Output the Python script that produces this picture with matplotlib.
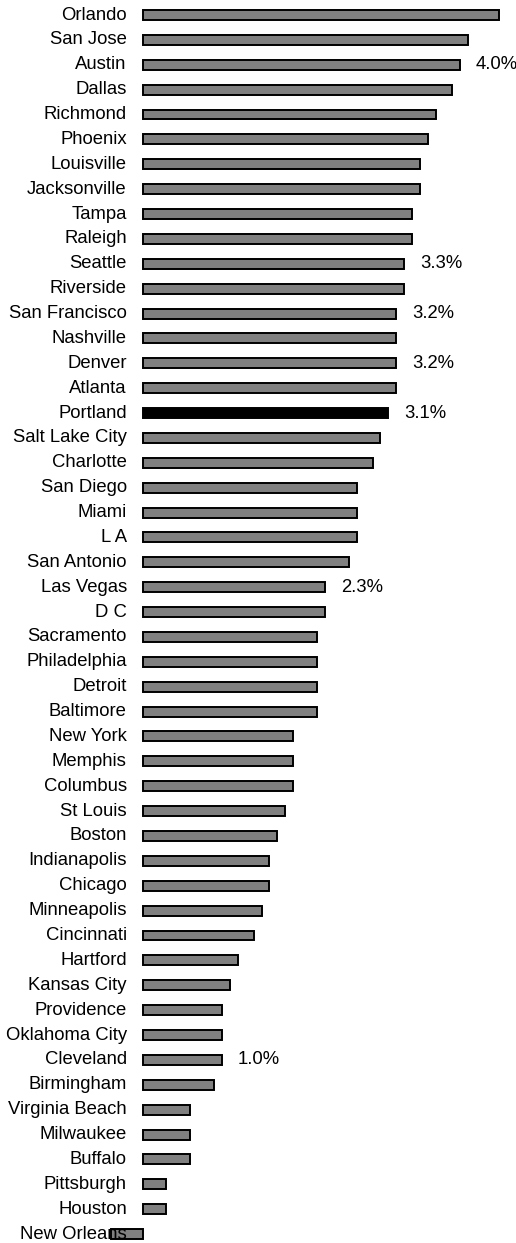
import numpy as np
import matplotlib
matplotlib.use('Agg')
import matplotlib.pyplot as plt

cities = ['Orlando', 'San Jose', 'Austin', 'Dallas', 'Richmond', 'Phoenix',
          'Louisville', 'Jacksonville', 'Tampa', 'Raleigh', 'Seattle', 'Riverside',
          'San Francisco', 'Nashville', 'Denver', 'Atlanta', 'Portland',
          'Salt Lake City', 'Charlotte', 'San Diego', 'Miami', 'L A', 'San Antonio',
          'Las Vegas', 'D C', 'Sacramento', 'Philadelphia', 'Detroit', 'Baltimore',
          'New York', 'Memphis', 'Columbus', 'St Louis', 'Boston', 'Indianapolis',
          'Chicago', 'Minneapolis', 'Cincinnati', 'Hartford', 'Kansas City',
          'Providence', 'Oklahoma City', 'Cleveland', 'Birmingham', 'Virginia Beach',
          'Milwaukee', 'Buffalo', 'Pittsburgh', 'Houston', 'New Orleans']
growth = [4.5, 4.1, 4.0, 3.9, 3.7, 3.6,
          3.5, 3.5, 3.4, 3.4, 3.3, 3.3,
          3.2, 3.2, 3.2, 3.2, 3.1,
          3.0, 2.9, 2.7, 2.7, 2.7, 2.6,
          2.3, 2.3, 2.2, 2.2, 2.2, 2.2,
          1.9, 1.9, 1.9, 1.8, 1.7, 1.6,
          1.6, 1.5, 1.4, 1.2, 1.1,
          1.0, 1.0, 1.0, 0.9, 0.6,
          0.6, 0.6, 0.3, 0.3, -0.4]
labelled = ['Austin', 'Seattle', 'San Francisco', 'Denver', 'Portland',
            'Las Vegas', 'Cleveland']
highlight = 'Portland'

fig = plt.figure(figsize=(5.16, 12.43), dpi=100)
ax = fig.add_axes([0, 0, 1, 1])
plt.rcParams['font.family'] = ['Liberation Sans', 'DejaVu Sans']

y = np.arange(len(cities))
colors = ['black' if c == highlight else '#808080' for c in cities]
ax.barh(y, growth, height=0.40, color=colors, edgecolor='black', linewidth=1.4, zorder=2)

for i, (c, v) in enumerate(zip(cities, growth)):
    ax.text(-0.2, i, c, ha='right', va='center', fontsize=13.3, family='Liberation Sans', zorder=3)
    if c in labelled:
        ax.text(v + 0.2, i, '{:.1f}%'.format(v), ha='left', va='center',
                fontsize=13.3, family='Liberation Sans', zorder=3)

ax.set_xlim(-1.80, 4.71)
ax.set_ylim(49.36, -0.603)
ax.axis('off')

plt.savefig('out.png', dpi=100)
